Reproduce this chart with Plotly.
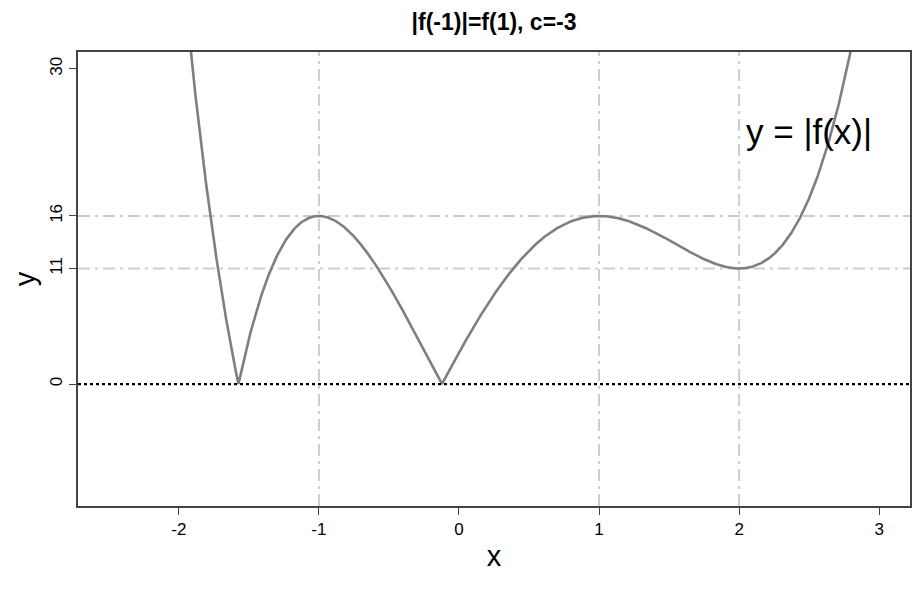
import numpy as np
import plotly.graph_objects as go

# f(x) = 3x^4 - 8x^3 - 6x^2 + 24x + 3  (critical points at -1, 1, 2; f(-1)=-16, f(1)=16, f(2)=11)
coeffs = [3, -8, -6, 24, 3]
x_range = [-2.5, 3.0]
y_range = [-10, 30]
x_ticks = [-2, -1, 0, 1, 2, 3]
y_ticks = [0, 11, 16, 30]
v_guides = [-1, 1, 2]
h_guides = [16, 11]
title_text = "|f(-1)|=f(1), c=-3"
curve_label = "y = |f(x)|"
label_pos = [2.5, 24]

xs = np.linspace(x_range[0], x_range[1], 4001)
ys = np.abs(np.polyval(coeffs, xs))

def ext(r):
    d = (r[1] - r[0]) * 0.04
    return [r[0] - d, r[1] + d]

fig = go.Figure()
fig.add_trace(go.Scatter(x=xs, y=ys, mode="lines",
                         line=dict(color="#7f7f7f", width=2.6),
                         hoverinfo="skip", showlegend=False))

shapes = []
grid_style = dict(color="#cdcdcd", width=2, dash="12px,5px,3px,5px")
for v in v_guides:
    shapes.append(dict(type="line", xref="x", yref="paper", x0=v, x1=v, y0=0, y1=1,
                       line=grid_style, layer="below"))
for h in h_guides:
    shapes.append(dict(type="line", xref="paper", yref="y", x0=0, x1=1, y0=h, y1=h,
                       line=grid_style, layer="below"))
shapes.append(dict(type="line", xref="paper", yref="y", x0=0, x1=1, y0=0, y1=0,
                   line=dict(color="black", width=2.2, dash="3px,3px"), layer="above"))

fig.update_layout(
    width=924, height=592,
    margin=dict(l=78, r=14, t=52, b=86),
    plot_bgcolor="white", paper_bgcolor="white",
    font=dict(family="Liberation Sans, Arial, sans-serif", color="black"),
    shapes=shapes,
    title=dict(text="<b>" + title_text + "</b>", x=0.5347, xanchor="center",
               y=1 - 22 / 592, yanchor="middle", font=dict(size=23)),
    annotations=[dict(x=label_pos[0], y=label_pos[1], xref="x", yref="y",
                      text=curve_label, showarrow=False,
                      font=dict(size=35, color="black"),
                      xanchor="center", yanchor="middle")],
)
fig.update_xaxes(range=ext(x_range), tickvals=x_ticks, ticktext=[str(t) for t in x_ticks],
                 showgrid=False, zeroline=False, showline=True, mirror=True,
                 linecolor="#444444", linewidth=1.5, ticks="outside", ticklen=7,
                 tickcolor="#444444", tickfont=dict(size=17),
                 title=dict(text="x", font=dict(size=29), standoff=8))
fig.update_yaxes(range=ext(y_range), tickvals=y_ticks, ticktext=[str(t) for t in y_ticks],
                 showgrid=False, zeroline=False, showline=True, mirror=True,
                 linecolor="#444444", linewidth=1.5, ticks="outside", ticklen=7,
                 tickcolor="#444444", tickfont=dict(size=17), tickangle=-90,
                 title=dict(text="y", font=dict(size=29), standoff=3))

fig.write_html("out.html", config={"displayModeBar": False},
               post_script="document.body.style.margin='0';")
